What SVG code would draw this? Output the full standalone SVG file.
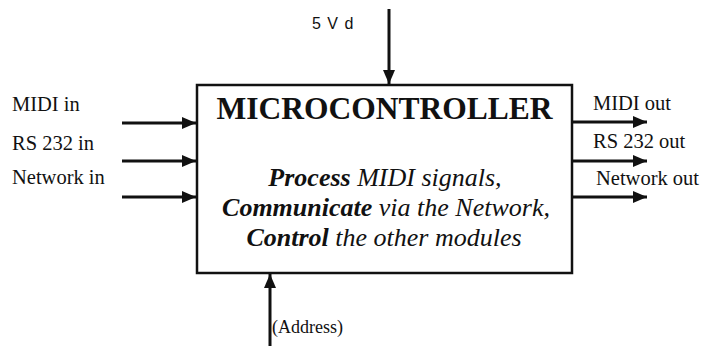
<svg xmlns="http://www.w3.org/2000/svg" width="702" height="346" viewBox="0 0 702 346">
<style>
.lbl{font-family:"Liberation Serif","Times New Roman",serif;font-size:20.5px;fill:#111}
.title{font-family:"Liberation Serif","Times New Roman",serif;font-size:31.5px;font-weight:bold;fill:#111}
.it{font-family:"Liberation Serif","Times New Roman",serif;font-size:26px;font-style:italic;fill:#111}
.b{font-weight:bold}
.conn{stroke:#111;stroke-width:3;fill:none}
</style>
<defs>
<marker id="ah" markerUnits="userSpaceOnUse" markerWidth="15" markerHeight="14" viewBox="0 0 15 14" refX="14" refY="7" orient="auto">
<path d="M0,1 L14,7 L0,13 Z" fill="#111"/>
</marker>
</defs>
<g id="microcontroller">
<rect x="197" y="85" width="375" height="188" fill="#fff" stroke="#111" stroke-width="2.5"/>
<text class="title" x="384.5" y="119" text-anchor="middle">MICROCONTROLLER</text>
<text class="it" x="385" y="186" text-anchor="middle"><tspan class="b">Process</tspan> MIDI signals,</text>
<text class="it" x="386" y="216" text-anchor="middle"><tspan class="b">Communicate</tspan> via the Network,</text>
<text class="it" x="384" y="246" text-anchor="middle"><tspan class="b">Control</tspan> the other modules</text>
</g>
<g id="labels">
<text class="lbl" x="12" y="111">MIDI in</text>
<text class="lbl" x="12" y="150">RS 232 in</text>
<text class="lbl" x="12" y="184">Network in</text>
<text class="lbl" x="593" y="110">MIDI out</text>
<text class="lbl" x="593" y="148">RS 232 out</text>
<text class="lbl" x="596" y="185">Network out</text>
<text x="312" y="29" style="font-family:'Liberation Sans',Arial,sans-serif;font-size:16px;letter-spacing:1px;fill:#111">5 V d</text>
<text x="272" y="333" style="font-family:'Liberation Serif','Times New Roman',serif;font-size:18px;fill:#111">(Address)</text>
</g>
<g id="connectors">
<line class="conn" x1="122" y1="123" x2="196" y2="123" marker-end="url(#ah)"/>
<line class="conn" x1="122" y1="161" x2="196" y2="161" marker-end="url(#ah)"/>
<line class="conn" x1="122" y1="197" x2="196" y2="197" marker-end="url(#ah)"/>
<line class="conn" x1="572" y1="122" x2="647" y2="122" marker-end="url(#ah)"/>
<line class="conn" x1="572" y1="161" x2="647" y2="161" marker-end="url(#ah)"/>
<line class="conn" x1="572" y1="197" x2="647" y2="197" marker-end="url(#ah)"/>
<line class="conn" x1="389" y1="9" x2="389" y2="84" marker-end="url(#ah)"/>
<line class="conn" x1="270" y1="346" x2="270" y2="274" marker-end="url(#ah)"/>
</g>
</svg>
